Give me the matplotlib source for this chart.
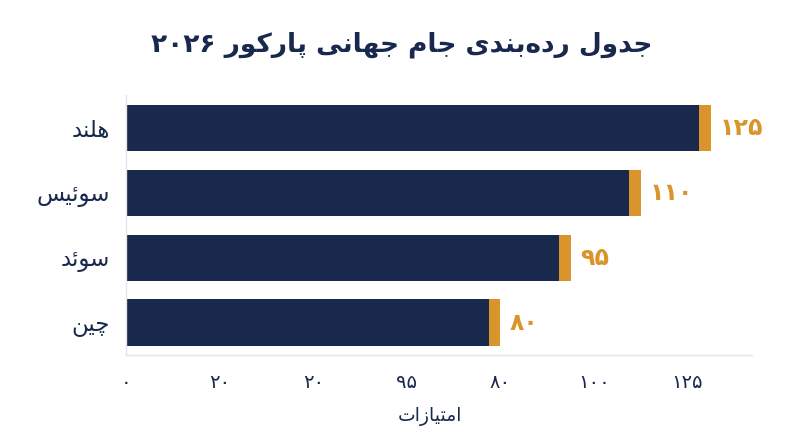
import matplotlib
matplotlib.use("Agg")
import matplotlib.pyplot as plt

# data
countries = ["هلند", "سوئیس", "سوئد", "چین"]
points = [125, 110, 95, 80]
tick_pos = [0, 20, 40, 60, 80, 100, 120]
tick_labels = ["۰", "۲۰", "۲۰", "۹۵", "۸۰", "۱۰۰", "۱۲۵"]
title = "جدول رده‌بندی جام جهانی پارکور ۲۰۲۶"
xlabel = "امتیازات"

NAVY = "#19294d"
GOLD = "#d9952b"

# minimal arabic shaping: (isolated, final, initial, medial)
FORMS = {
    "ا": ("\uFE8D", "\uFE8E", None, None),
    "ب": ("\uFE8F", "\uFE90", "\uFE91", "\uFE92"),
    "پ": ("\uFB56", "\uFB57", "\uFB58", "\uFB59"),
    "ت": ("\uFE95", "\uFE96", "\uFE97", "\uFE98"),
    "ج": ("\uFE9D", "\uFE9E", "\uFE9F", "\uFEA0"),
    "چ": ("\uFB7A", "\uFB7B", "\uFB7C", "\uFB7D"),
    "د": ("\uFEA9", "\uFEAA", None, None),
    "ر": ("\uFEAD", "\uFEAE", None, None),
    "ز": ("\uFEAF", "\uFEB0", None, None),
    "س": ("\uFEB1", "\uFEB2", "\uFEB3", "\uFEB4"),
    "ک": ("\uFB8E", "\uFB8F", "\uFB90", "\uFB91"),
    "ل": ("\uFEDD", "\uFEDE", "\uFEDF", "\uFEE0"),
    "م": ("\uFEE1", "\uFEE2", "\uFEE3", "\uFEE4"),
    "ن": ("\uFEE5", "\uFEE6", "\uFEE7", "\uFEE8"),
    "و": ("\uFEED", "\uFEEE", None, None),
    "ه": ("\uFEE9", "\uFEEA", "\uFEEB", "\uFEEC"),
    "ی": ("\uFBFC", "\uFBFD", "\uFBFE", "\uFBFF"),
    "ئ": ("\uFE89", "\uFE8A", "\uFE8B", "\uFE8C"),
}


def shape_word(word):
    out = []
    for i, ch in enumerate(word):
        if ch not in FORMS:
            if ch != "\u200c":
                out.append(ch)
            continue
        prev = word[i - 1] if i > 0 else None
        nxt = word[i + 1] if i + 1 < len(word) else None
        join_prev = prev in FORMS and FORMS[prev][2] is not None
        join_next = FORMS[ch][2] is not None and nxt in FORMS
        f = FORMS[ch]
        if join_prev and join_next:
            out.append(f[3])
        elif join_prev:
            out.append(f[1])
        elif join_next:
            out.append(f[2])
        else:
            out.append(f[0])
    return "".join(out[::-1])


def rtl(text):
    words = []
    for w in text.split(" "):
        if any(c in FORMS for c in w):
            words.append(shape_word(w))
        else:
            words.append(w)
    return " ".join(words[::-1])


def fa_num(v):
    return str(v).translate(str.maketrans("0123456789", "۰۱۲۳۴۵۶۷۸۹"))


plt.rcParams["font.family"] = ["DejaVu Sans"]

fig = plt.figure(figsize=(8, 4.47), dpi=100)
ax = fig.add_axes([0.158, 0.205, 0.7816, 0.5814])

y = list(range(len(countries)))
cap = 2.5
ax.barh(y, points, height=0.72, color=NAVY, zorder=2)
ax.barh(y, [cap] * len(points), left=[p - cap for p in points],
        height=0.72, color=GOLD, zorder=3)

for yi, p in zip(y, points):
    ax.text(p + 2.0, yi, fa_num(p), va="center", ha="left",
            fontsize=17, fontweight="bold", color=GOLD)

ax.set_xlim(0, max(points) * 1.07)
ax.set_ylim(len(countries) - 0.5, -0.5)
ax.set_yticks(y)
ax.set_yticklabels([rtl(c) for c in countries], fontsize=16.5, color=NAVY)
ax.set_xticks(tick_pos)
ax.set_xticklabels(tick_labels, fontsize=14, color=NAVY)
ax.tick_params(axis="both", length=0)
ax.tick_params(axis="x", pad=13)
ax.tick_params(axis="y", pad=12)
ax.set_xlabel(rtl(xlabel), fontsize=13.5, color=NAVY, labelpad=9)
ax.xaxis.set_label_coords(0.4854, -0.2)

for s in ["top", "right"]:
    ax.spines[s].set_visible(False)
for s in ["left", "bottom"]:
    ax.spines[s].set_color("#e3e5ea")
    ax.spines[s].set_linewidth(1)

fig.text(0.502, 0.9, rtl(title), ha="center", va="center",
         fontsize=19, fontweight="bold", color=NAVY)

fig.savefig("out.png", dpi=100, facecolor="white")
